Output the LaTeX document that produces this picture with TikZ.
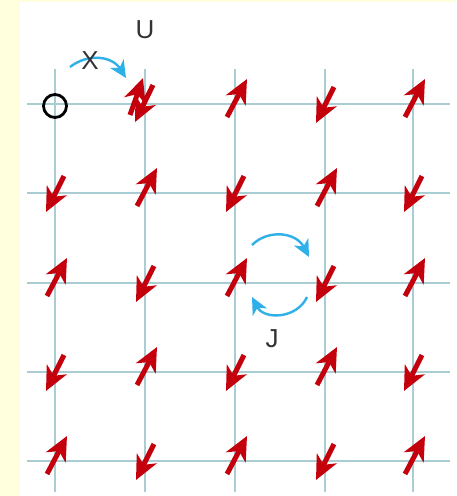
\documentclass[tikz,border=0pt]{standalone}
\usepackage{fontspec}
\setmainfont{Liberation Sans}
\usepackage{tikz}
\usetikzlibrary{arrows.meta,calc}
\definecolor{HUBred}{HTML}{C4000C}
\definecolor{HUBgrid}{HTML}{A9CDD2}
\definecolor{HUBblue}{HTML}{2FB0E8}
\definecolor{HUBpaper}{HTML}{FFFFDD}
\definecolor{HUBtext}{HTML}{333333}

\begin{document}
\begin{tikzpicture}[
    x=1pt,y=-1pt,
    gridline/.style={HUBgrid,line width=1.6pt},
    spin/.style={HUBred,line width=5pt,-{Stealth[length=24pt,width=22pt,inset=7pt]}},
    hop/.style={HUBblue,line width=2.4pt,-{Stealth[length=17pt,width=16pt,inset=5pt]}},
    lbl/.style={font=\fontsize{26}{26}\selectfont,text=HUBtext,inner sep=0pt}
  ]
    % Paper
    \useasboundingbox (0,0) rectangle (456,496);
    \fill[HUBpaper] (0,0) rectangle (456,496);
    \fill[white] (19.5,2) rectangle (456,496);

    % Lattice sites
    \foreach \r/\y in {1/104,2/193,3/283,4/372,5/461}
      \foreach \c/\x in {1/55,2/145,3/235,4/325,5/413}
        \coordinate (s\r\c) at (\x,\y);

    % Grid lines
    \foreach \y in {104,193,283,372,461}
      \draw[gridline] (27,\y) -- (450,\y);
    \foreach \x in {55,145,235,325,413}
      \draw[gridline] (\x,69) -- (\x,492);

    % Row 1
    \node[draw=black,circle,line width=2.8pt,minimum size=23pt,inner sep=0pt] (hole) at ($(s11)+(0,2)$) {};
    \draw[spin] ([shift={(-15,11)}]s12) -- ++(13,-37);
    \draw[spin] ([shift={(8,-19)}]s12) -- ++(-18,37);
    \draw[spin] ([shift={(-8,13)}]s13) -- ++(20,-38);
    \draw[spin] ([shift={(9,-17)}]s14) -- ++(-18,36);
    \draw[spin] ([shift={(-8,13)}]s15) -- ++(20,-38);

    % Row 2
    \draw[spin] ([shift={(9,-17)}]s21) -- ++(-18,36);
    \draw[spin] ([shift={(-8,13)}]s22) -- ++(20,-38);
    \draw[spin] ([shift={(9,-17)}]s23) -- ++(-18,36);
    \draw[spin] ([shift={(-8,13)}]s24) -- ++(20,-38);
    \draw[spin] ([shift={(9,-17)}]s25) -- ++(-18,36);

    % Row 3
    \draw[spin] ([shift={(-8,13)}]s31) -- ++(20,-38);
    \draw[spin] ([shift={(9,-17)}]s32) -- ++(-18,36);
    \draw[spin] ([shift={(-8,13)}]s33) -- ++(20,-38);
    \draw[spin] ([shift={(9,-17)}]s34) -- ++(-18,36);
    \draw[spin] ([shift={(-8,13)}]s35) -- ++(20,-38);

    % Row 4
    \draw[spin] ([shift={(9,-17)}]s41) -- ++(-18,36);
    \draw[spin] ([shift={(-8,13)}]s42) -- ++(20,-38);
    \draw[spin] ([shift={(9,-17)}]s43) -- ++(-18,36);
    \draw[spin] ([shift={(-8,13)}]s44) -- ++(20,-38);
    \draw[spin] ([shift={(9,-17)}]s45) -- ++(-18,36);

    % Row 5
    \draw[spin] ([shift={(-8,13)}]s51) -- ++(20,-38);
    \draw[spin] ([shift={(9,-17)}]s52) -- ++(-18,36);
    \draw[spin] ([shift={(-8,13)}]s53) -- ++(20,-38);
    \draw[spin] ([shift={(9,-17)}]s54) -- ++(-18,36);
    \draw[spin] ([shift={(-8,13)}]s55) -- ++(20,-38);

    % Hopping
    \coordinate (hopA) at (70,67);
    \coordinate (hopB) at (126,78);
    \draw[hop] (hopA) .. controls (88,53) and (112,56) .. (hopB);
    \node[lbl] (hoplbl) at (90,61) {X};

    % Exchange
    \coordinate (exA) at (252,245);
    \coordinate (exB) at (309,257);
    \coordinate (exC) at (307,297);
    \coordinate (exD) at (252,297);
    \draw[hop] (exA) .. controls (268,229) and (296,232) .. (exB);
    \draw[hop] (exC) .. controls (297,319) and (264,320) .. (exD);

    % Labels
    \node[lbl] (ulbl) at (145,30) {U};
    \node[lbl] (jlbl) at (272,339) {J};
  \end{tikzpicture}
\end{document}
